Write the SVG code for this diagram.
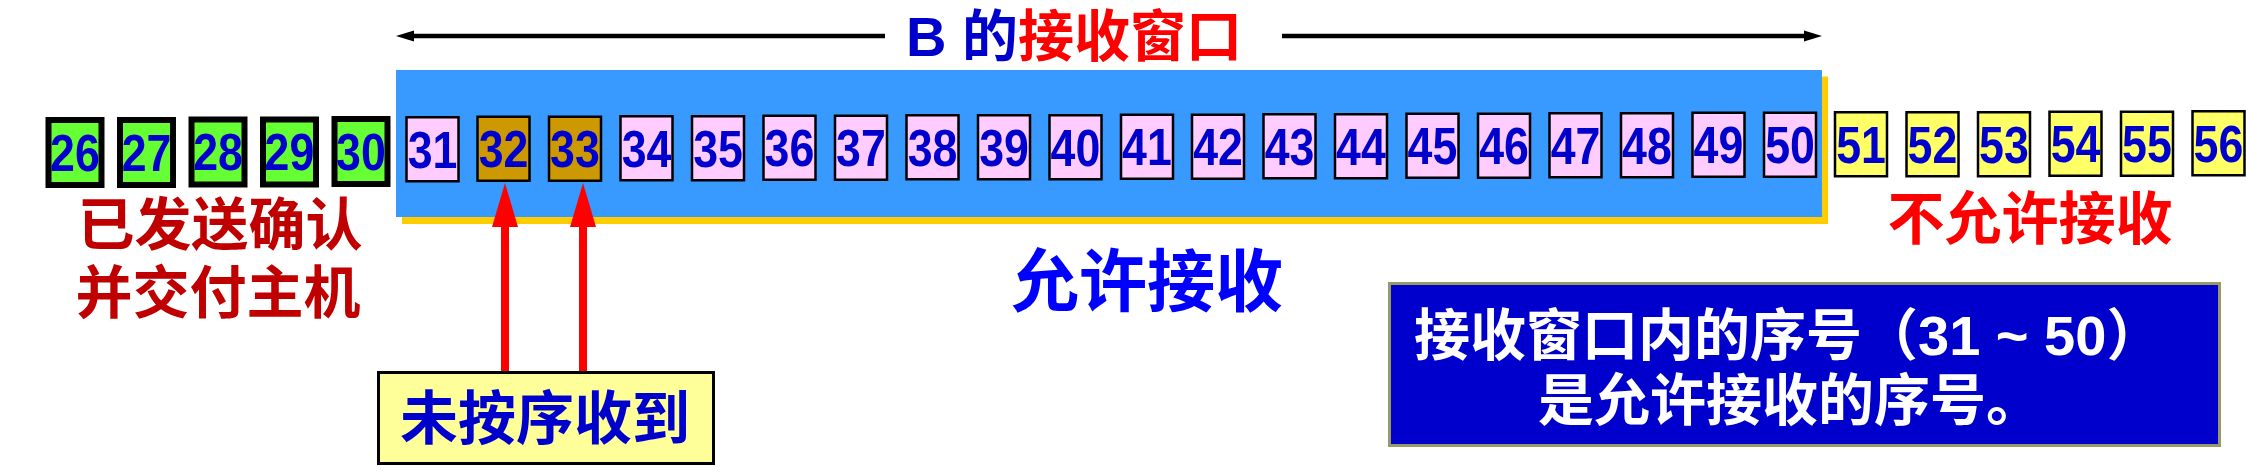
<svg xmlns="http://www.w3.org/2000/svg" width="2246" height="472" viewBox="0 0 2246 472">
<style>
.num{font-family:"Liberation Sans",Arial,sans-serif;font-weight:bold;font-size:52px;fill:#0000CC;text-anchor:middle;transform-box:fill-box;transform-origin:center;transform:scaleX(0.86)}
.cjk{font-family:"Liberation Sans","Noto Sans CJK SC",sans-serif;font-weight:bold}
.g{fill:#66FF33;stroke:#000;stroke-width:6}
.p{fill:#FFCCFF;stroke:#000;stroke-width:2.5}
.b{fill:#CC9900;stroke:#000;stroke-width:2.5}
.y{fill:#FFFF66;stroke:#000;stroke-width:2.5}
</style>
<defs>
<marker id="ah" markerUnits="userSpaceOnUse" markerWidth="18" markerHeight="12" refX="9" refY="6" orient="auto">
<path d="M0,0.5 L18,6 L0,11.5 z" fill="#000"/>
</marker>
<marker id="rh" markerUnits="userSpaceOnUse" markerWidth="44" markerHeight="26" refX="22" refY="13" orient="auto">
<path d="M0,0 L44,13 L0,26 z" fill="#FF0000"/>
</marker>
</defs>
<rect width="2246" height="472" fill="#fff"/>
<g id="window">
<rect x="402" y="76.5" width="1426" height="147.5" fill="#FFCC00"/>
<rect x="396" y="70" width="1426" height="147" fill="#3899FF"/>
</g>
<g id="title">
<text class="cjk" x="906" y="56" font-size="56"><tspan fill="#0000CC">B 的</tspan><tspan fill="#FF0000">接收窗口</tspan></text>
</g>
<g id="connectors">
<line x1="885" y1="36" x2="405" y2="36" stroke="#000" stroke-width="4.5" marker-end="url(#ah)"/>
<line x1="1282" y1="36" x2="1813" y2="36" stroke="#000" stroke-width="4.5" marker-end="url(#ah)"/>
<line x1="505" y1="372" x2="505" y2="205" stroke="#FF0000" stroke-width="8" marker-end="url(#rh)"/>
<line x1="583" y1="372" x2="583" y2="205" stroke="#FF0000" stroke-width="8" marker-end="url(#rh)"/>
</g>
<g id="seq26"><rect class="g" x="48.5" y="120" width="53" height="65"/><text class="num" x="75" y="171">26</text></g>
<g id="seq27"><rect class="g" x="120" y="120" width="53" height="65"/><text class="num" x="146.5" y="171">27</text></g>
<g id="seq28"><rect class="g" x="191.5" y="119.5" width="53" height="65"/><text class="num" x="218" y="170.5">28</text></g>
<g id="seq29"><rect class="g" x="263" y="119.5" width="53" height="65"/><text class="num" x="289.5" y="170.5">29</text></g>
<g id="seq30"><rect class="g" x="334.5" y="119" width="53" height="65"/><text class="num" x="361" y="170">30</text></g>
<g id="seq31"><rect class="p" x="406.5" y="117.25" width="52" height="64"/><text class="num" x="432.5" y="167.75">31</text></g>
<g id="seq32"><rect class="b" x="477.5" y="116.75" width="52" height="64"/><text class="num" x="503.5" y="167.25">32</text></g>
<g id="seq33"><rect class="b" x="549" y="116.75" width="52" height="64"/><text class="num" x="575" y="167.25">33</text></g>
<g id="seq34"><rect class="p" x="620.5" y="116.25" width="52" height="64"/><text class="num" x="646.5" y="166.75">34</text></g>
<g id="seq35"><rect class="p" x="692" y="116.25" width="52" height="64"/><text class="num" x="718" y="166.75">35</text></g>
<g id="seq36"><rect class="p" x="763.5" y="115.75" width="52" height="64"/><text class="num" x="789.5" y="166.25">36</text></g>
<g id="seq37"><rect class="p" x="835" y="115.75" width="52" height="64"/><text class="num" x="861" y="166.25">37</text></g>
<g id="seq38"><rect class="p" x="906.5" y="115.25" width="52" height="64"/><text class="num" x="932.5" y="165.75">38</text></g>
<g id="seq39"><rect class="p" x="978" y="115.25" width="52" height="64"/><text class="num" x="1004" y="165.75">39</text></g>
<g id="seq40"><rect class="p" x="1049.5" y="115.25" width="52" height="64"/><text class="num" x="1075.5" y="165.75">40</text></g>
<g id="seq41"><rect class="p" x="1121" y="114.75" width="52" height="64"/><text class="num" x="1147" y="165.25">41</text></g>
<g id="seq42"><rect class="p" x="1192" y="114.75" width="52" height="64"/><text class="num" x="1218" y="165.25">42</text></g>
<g id="seq43"><rect class="p" x="1263.5" y="114.25" width="52" height="64"/><text class="num" x="1289.5" y="164.75">43</text></g>
<g id="seq44"><rect class="p" x="1335" y="114.25" width="52" height="64"/><text class="num" x="1361" y="164.75">44</text></g>
<g id="seq45"><rect class="p" x="1406.5" y="113.75" width="52" height="64"/><text class="num" x="1432.5" y="164.25">45</text></g>
<g id="seq46"><rect class="p" x="1478" y="113.75" width="52" height="64"/><text class="num" x="1504" y="164.25">46</text></g>
<g id="seq47"><rect class="p" x="1549.5" y="113.25" width="52" height="64"/><text class="num" x="1575.5" y="163.75">47</text></g>
<g id="seq48"><rect class="p" x="1621" y="113.25" width="52" height="64"/><text class="num" x="1647" y="163.75">48</text></g>
<g id="seq49"><rect class="p" x="1692.5" y="112.75" width="52" height="64"/><text class="num" x="1718.5" y="163.25">49</text></g>
<g id="seq50"><rect class="p" x="1764" y="112.75" width="52" height="64"/><text class="num" x="1790" y="163.25">50</text></g>
<g id="seq51"><rect class="y" x="1835" y="112.25" width="52" height="64"/><text class="num" x="1861" y="162.75">51</text></g>
<g id="seq52"><rect class="y" x="1906.5" y="112.25" width="52" height="64"/><text class="num" x="1932.5" y="162.75">52</text></g>
<g id="seq53"><rect class="y" x="1978" y="112.25" width="52" height="64"/><text class="num" x="2004" y="162.75">53</text></g>
<g id="seq54"><rect class="y" x="2049.5" y="111.75" width="52" height="64"/><text class="num" x="2075.5" y="162.25">54</text></g>
<g id="seq55"><rect class="y" x="2121" y="111.75" width="52" height="64"/><text class="num" x="2147" y="162.25">55</text></g>
<g id="seq56"><rect class="y" x="2192.5" y="111.25" width="52" height="64"/><text class="num" x="2218.5" y="161.75">56</text></g>
<g id="acked-label">
<text class="cjk" font-size="57" fill="#C00000" text-anchor="middle"><tspan x="220" y="245">已发送确认</tspan><tspan x="218" y="313">并交付主机</tspan></text>
</g>
<g id="allowed-label">
<text class="cjk" font-size="68" fill="#0000FF" text-anchor="middle" x="1147" y="306">允许接收</text>
</g>
<g id="not-allowed-label">
<text class="cjk" font-size="57" fill="#FF0000" text-anchor="middle" x="2030" y="239">不允许接收</text>
</g>
<g id="out-of-order">
<rect x="378.5" y="372.5" width="335" height="91" fill="#FFFF99" stroke="#000" stroke-width="3"/>
<text class="cjk" font-size="58" fill="#0000CC" text-anchor="middle" x="545" y="439">未按序收到</text>
</g>
<g id="note">
<rect x="1389.5" y="283.5" width="830" height="162" fill="#0000CC" stroke="#999966" stroke-width="3"/>
<text class="cjk" font-size="56" fill="#FFFFFF"><tspan x="1414" y="355">接收窗口内的序号（31 ~ 50）</tspan><tspan x="1538" y="420">是允许接收的序号。</tspan></text>
</g>
</svg>
